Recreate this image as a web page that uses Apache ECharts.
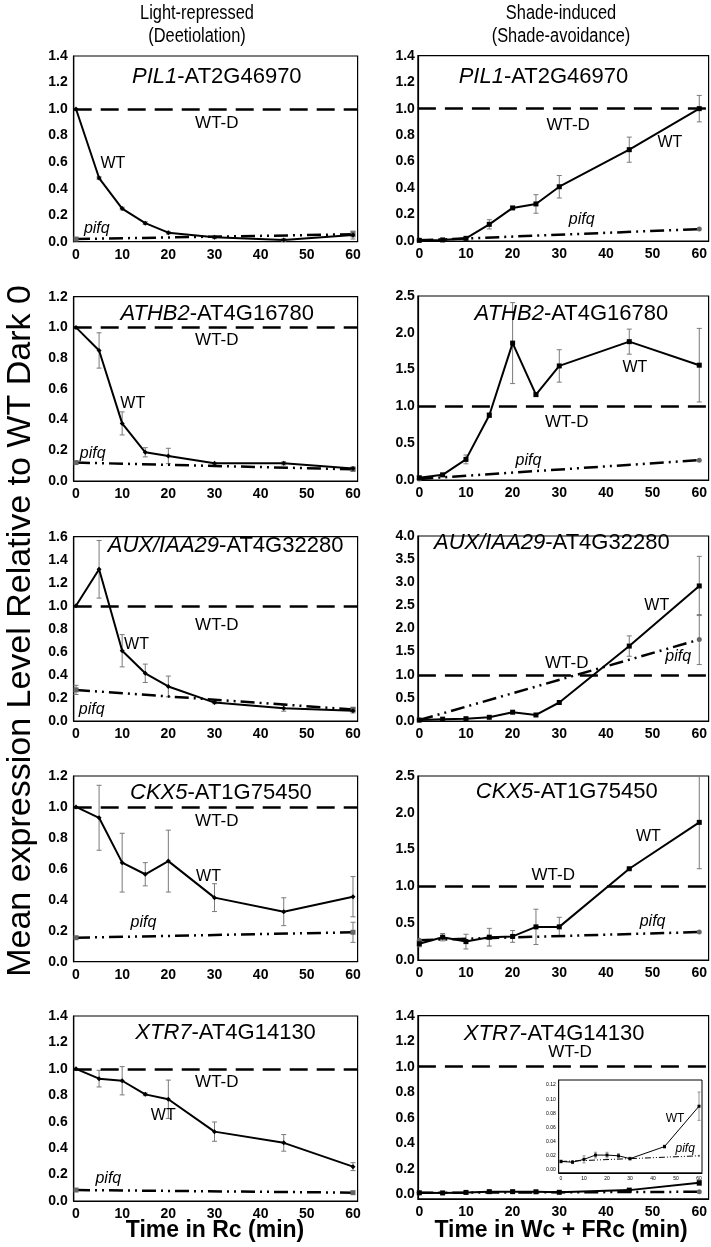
<!DOCTYPE html>
<html><head><meta charset="utf-8">
<script src="https://cdn.jsdelivr.net/npm/echarts@6/dist/echarts.min.js"></script>
<style>html,body{margin:0;padding:0;background:#fff}#c{width:711px;height:1247px}</style>
</head><body><div id="c"></div>
<script>
// ---------- DATA ----------
const timesLight = [0, 5, 10, 15, 20, 30, 45, 60];
const timesShade = [0, 5, 10, 15, 20, 25, 30, 45, 60];
const pifqTimes = [0, 60];
const xTicks = [0, 10, 20, 30, 40, 50, 60];
const wtDarkLevel = 1.0;
const yTicks12 = [0, 0.2, 0.4, 0.6, 0.8, 1.0, 1.2];
const yTicks14 = [0, 0.2, 0.4, 0.6, 0.8, 1.0, 1.2, 1.4];
const yTicks16 = [0, 0.2, 0.4, 0.6, 0.8, 1.0, 1.2, 1.4, 1.6];
const yTicks25 = [0, 0.5, 1.0, 1.5, 2.0, 2.5];
const yTicks40 = [0, 0.5, 1.0, 1.5, 2.0, 2.5, 3.0, 3.5, 4.0];
const insetYTicks = [0, 0.02, 0.04, 0.06, 0.08, 0.10, 0.12];

// PIL1
const pil1LightWT   = [1.0, 0.48, 0.25, 0.14, 0.068, 0.033, 0.013, 0.05];
const pil1LightErr  = [0, 0.01, 0.01, 0.01, 0.01, 0.01, 0.01, 0.03];
const pil1LightPifq = [0.02, 0.056];
const pil1LightPifqErr = [0, 0.02];
const pil1ShadeWT   = [0.005, 0.008, 0.02, 0.126, 0.25, 0.28, 0.41, 0.69, 1.0];
const pil1ShadeErr  = [0, 0, 0.005, 0.035, 0.01, 0.07, 0.085, 0.095, 0.1];
const pil1ShadePifq = [0.005, 0.09];
const pil1ShadePifqErr = [0, 0];
// ATHB2
const athb2LightWT   = [1.0, 0.85, 0.375, 0.187, 0.163, 0.115, 0.115, 0.082];
const athb2LightErr  = [0, 0.115, 0.075, 0.03, 0.05, 0.005, 0.01, 0.01];
const athb2LightPifq = [0.12, 0.076];
const athb2LightPifqErr = [0, 0.01];
const athb2ShadeWT   = [0.03, 0.07, 0.28, 0.88, 1.86, 1.16, 1.55, 1.88, 1.56];
const athb2ShadeErr  = [0.02, 0.02, 0.06, 0.03, 0.55, 0.02, 0.22, 0.17, 0.5];
const athb2ShadePifq = [0.015, 0.27];
const athb2ShadePifqErr = [0, 0];
// AUX/IAA29
const iaa29LightWT   = [1.0, 1.317, 0.61, 0.414, 0.30, 0.16, 0.11, 0.09];
const iaa29LightErr  = [0, 0.25, 0.14, 0.08, 0.09, 0.01, 0.025, 0.02];
const iaa29LightPifq = [0.27, 0.10];
const iaa29LightPifqErr = [0.04, 0.02];
const iaa29ShadeWT   = [0.02, 0.04, 0.05, 0.08, 0.19, 0.13, 0.40, 1.62, 2.92];
const iaa29ShadeErr  = [0, 0, 0, 0, 0, 0, 0, 0.22, 0.64];
const iaa29ShadePifq = [0.02, 1.76];
const iaa29ShadePifqErr = [0, 0.54];
// CKX5
const ckx5LightWT   = [1.0, 0.93, 0.64, 0.565, 0.65, 0.414, 0.323, 0.42];
const ckx5LightErr  = [0, 0.21, 0.19, 0.075, 0.2, 0.09, 0.09, 0.13];
const ckx5LightPifq = [0.155, 0.19];
const ckx5LightPifqErr = [0, 0.065];
const ckx5ShadeWT   = [0.22, 0.31, 0.25, 0.31, 0.32, 0.45, 0.45, 1.24, 1.87];
const ckx5ShadeErr  = [0.04, 0.05, 0.1, 0.12, 0.08, 0.24, 0.13, 0.01, 0.63];
const ckx5ShadePifq = [0.27, 0.38];
const ckx5ShadePifqErr = [0, 0];
// XTR7
const xtr7LightWT   = [1.0, 0.926, 0.91, 0.807, 0.77, 0.525, 0.44, 0.26];
const xtr7LightErr  = [0, 0.063, 0.107, 0.01, 0.145, 0.073, 0.063, 0.03];
const xtr7LightPifq = [0.083, 0.063];
const xtr7LightPifqErr = [0, 0];
const xtr7ShadeWT   = [0.012, 0.011, 0.015, 0.021, 0.021, 0.020, 0.016, 0.033, 0.09];
const xtr7ShadeErr  = [0.002, 0.002, 0.005, 0.004, 0.004, 0.003, 0.002, 0.002, 0.02];
const xtr7ShadePifq = [0.012, 0.02];
const xtr7ShadePifqErr = [0, 0];

// ---------- PANELS ----------
const panels = [
  {gene:'PIL1', locus:'AT2G46970', side:'L', times:timesLight, wt:pil1LightWT, err:pil1LightErr, pifq:pil1LightPifq, pifqErr:pil1LightPifqErr, yMax:1.4, yTicks:yTicks14},
  {gene:'PIL1', locus:'AT2G46970', side:'R', times:timesShade, wt:pil1ShadeWT, err:pil1ShadeErr, pifq:pil1ShadePifq, pifqErr:pil1ShadePifqErr, yMax:1.4, yTicks:yTicks14},
  {gene:'ATHB2', locus:'AT4G16780', side:'L', times:timesLight, wt:athb2LightWT, err:athb2LightErr, pifq:athb2LightPifq, pifqErr:athb2LightPifqErr, yMax:1.2, yTicks:yTicks12},
  {gene:'ATHB2', locus:'AT4G16780', side:'R', times:timesShade, wt:athb2ShadeWT, err:athb2ShadeErr, pifq:athb2ShadePifq, pifqErr:athb2ShadePifqErr, yMax:2.5, yTicks:yTicks25},
  {gene:'AUX/IAA29', locus:'AT4G32280', side:'L', times:timesLight, wt:iaa29LightWT, err:iaa29LightErr, pifq:iaa29LightPifq, pifqErr:iaa29LightPifqErr, yMax:1.6, yTicks:yTicks16},
  {gene:'AUX/IAA29', locus:'AT4G32280', side:'R', times:timesShade, wt:iaa29ShadeWT, err:iaa29ShadeErr, pifq:iaa29ShadePifq, pifqErr:iaa29ShadePifqErr, yMax:4.0, yTicks:yTicks40},
  {gene:'CKX5', locus:'AT1G75450', side:'L', times:timesLight, wt:ckx5LightWT, err:ckx5LightErr, pifq:ckx5LightPifq, pifqErr:ckx5LightPifqErr, yMax:1.2, yTicks:yTicks12},
  {gene:'CKX5', locus:'AT1G75450', side:'R', times:timesShade, wt:ckx5ShadeWT, err:ckx5ShadeErr, pifq:ckx5ShadePifq, pifqErr:ckx5ShadePifqErr, yMax:2.5, yTicks:yTicks25},
  {gene:'XTR7', locus:'AT4G14130', side:'L', times:timesLight, wt:xtr7LightWT, err:xtr7LightErr, pifq:xtr7LightPifq, pifqErr:xtr7LightPifqErr, yMax:1.4, yTicks:yTicks14},
  {gene:'XTR7', locus:'AT4G14130', side:'R', times:timesShade, wt:xtr7ShadeWT, err:xtr7ShadeErr, pifq:xtr7ShadePifq, pifqErr:xtr7ShadePifqErr, yMax:1.4, yTicks:yTicks14}
];

// ---------- LAYOUT ----------
const colL = {left:73.7, width:283.9, xMin:-0.5, xMax:61};
const colR = {left:417.9, width:290.7, xMin:-0.3, xMax:62};
const rowPix = [
  [56, 241.7, 0], [55.7, 241, 0],
  [296.7, 481, 0], [296, 480, 0],
  [536.7, 721, 0], [536, 721, 0],
  [776, 961.7, 0], [776, 960, 0],
  [1016, 1201, 0], [1015.7, 1198.8, -0.035]
];
// annotation positions in data coordinates: title, WT-D, WT, pifq
const annot = [
  {title:[30.5,1.24], wtd:[30.5,0.895], wt:[8,0.586], pifq:[4.5,0.10]},
  {title:[26.6,1.24], wtd:[31.9,0.876], wt:[53.7,0.74], pifq:[34.8,0.16]},
  {title:[30.6,1.09], wtd:[30.5,0.918], wt:[12.3,0.506], pifq:[3.6,0.18]},
  {title:[32.6,2.26], wtd:[31.6,0.79], wt:[46.2,1.53], pifq:[23.4,0.27]},
  {title:[32.4,1.52], wtd:[30.5,0.83], wt:[13.1,0.66], pifq:[3.4,0.10]},
  {title:[28.4,3.86], wtd:[31.6,1.24], wt:[50.9,2.49], pifq:[55.5,1.40]},
  {title:[31.4,1.09], wtd:[30.5,0.905], wt:[28.7,0.55], pifq:[14.6,0.25]},
  {title:[31.6,2.29], wtd:[28.7,1.15], wt:[49.1,1.68], pifq:[50.0,0.52]},
  {title:[32.4,1.27], wtd:[30.5,0.895], wt:[18.9,0.645], pifq:[7.0,0.17]},
  {title:[28.9,1.26], wtd:[32.3,1.11], wt:null, pifq:null}
];

const FONT = '"Liberation Sans", Arial, Helvetica, sans-serif';
const dashWTD = [18, 9];
const dashPifq = [14, 5, 2, 5, 2, 5];

function errData(times, vals, errs) {
  const out = [];
  times.forEach((t, k) => { if (errs[k] > 0) out.push([t, vals[k] - errs[k], vals[k] + errs[k]]); });
  return out;
}
function errSeries(idx, data, capW, lw) {
  return {
    type:'custom', xAxisIndex:idx, yAxisIndex:idx, silent:true, z:1,
    encode:{x:0, y:[1,2]}, data:data,
    renderItem:(params, api) => {
      const x = api.value(0), lo = api.value(1), hi = api.value(2);
      const a = api.coord([x, hi]), b = api.coord([x, lo]);
      const st = {stroke:'#7a7a7a', lineWidth:lw};
      return {type:'group', children:[
        {type:'line', shape:{x1:a[0], y1:a[1], x2:b[0], y2:b[1]}, style:st},
        {type:'line', shape:{x1:a[0]-capW, y1:a[1], x2:a[0]+capW, y2:a[1]}, style:st},
        {type:'line', shape:{x1:b[0]-capW, y1:b[1], x2:b[0]+capW, y2:b[1]}, style:st}
      ]};
    }
  };
}
function annItem(pos, text, style) {
  return {value:pos, label:Object.assign({show:true, position:'inside', formatter:text, color:'#000', opacity:1, fontFamily:FONT}, style)};
}

const option = {animation:false, backgroundColor:'#fff', grid:[], xAxis:[], yAxis:[], series:[], graphic:[]};

panels.forEach((p, i) => {
  const col = p.side === 'L' ? colL : colR;
  const r = rowPix[i];
  option.grid.push({left:col.left, top:r[0], width:col.width, height:r[1]-r[0], show:true, borderColor:'#000', borderWidth:1.2});
  option.xAxis.push({
    type:'value', gridIndex:i, min:col.xMin, max:col.xMax,
    axisLine:{show:true, onZero:false, lineStyle:{color:'#000', width:1.2}},
    axisTick:{show:false}, splitLine:{show:false},
    axisLabel:{customValues:xTicks, fontFamily:FONT, fontWeight:'bold', fontSize:14, color:'#000', margin:6}
  });
  option.yAxis.push({
    type:'value', gridIndex:i, min:r[2], max:p.yMax,
    axisLine:{show:true, onZero:false, lineStyle:{color:'#000', width:1.2}},
    axisTick:{show:false}, splitLine:{show:false},
    axisLabel:{customValues:p.yTicks, formatter:v => v.toFixed(1), fontFamily:FONT, fontWeight:'bold', fontSize:14, color:'#000', margin:p.side === 'L' ? 6 : 3}
  });
  const isL = p.side === 'L';
  option.series.push({
    type:'line', xAxisIndex:i, yAxisIndex:i, z:3,
    data:pifqTimes.map((t, k) => [t, p.pifq[k]]),
    symbol:isL ? 'rect' : 'circle', symbolSize:5, showSymbol:true,
    itemStyle:{color:'#666'},
    lineStyle:{color:'#000', width:2.5, type:dashPifq}
  });
  option.series.push({
    type:'line', xAxisIndex:i, yAxisIndex:i, z:4,
    data:p.times.map((t, k) => [t, p.wt[k]]),
    symbol:isL ? 'diamond' : 'rect', symbolSize:5,
    itemStyle:{color:'#000'},
    lineStyle:{color:'#000', width:2},
    markLine:{silent:true, symbol:'none', label:{show:false}, animation:false,
      lineStyle:{color:'#000', width:2.5, type:dashWTD}, data:[{yAxis:wtDarkLevel}]}
  });
  option.series.push(errSeries(i, errData(p.times, p.wt, p.err), 2.5, 1));
  option.series.push(errSeries(i, errData(pifqTimes, p.pifq, p.pifqErr), 2.5, 1));
  const a = annot[i];
  const items = [
    annItem(a.title, '{i|' + p.gene + '}{n|-' + p.locus + '}', {rich:{i:{fontStyle:'italic', fontSize:22, fontFamily:FONT, color:'#000'}, n:{fontSize:22, fontFamily:FONT, color:'#000'}}}),
    annItem(a.wtd, 'WT-D', {fontSize:17})
  ];
  if (a.wt) items.push(annItem(a.wt, 'WT', {fontSize:16}));
  if (a.pifq) items.push(annItem(a.pifq, 'pifq', {fontSize:16, fontStyle:'italic'}));
  option.series.push({type:'scatter', xAxisIndex:i, yAxisIndex:i, symbolSize:1, silent:true, z:6,
    itemStyle:{color:'transparent', opacity:1}, data:items});
});

// ---------- INSET (XTR7 shade) ----------
const iIdx = panels.length;
const xtr = panels[9];
option.grid.push({left:558.7, top:1080, width:143.3, height:92.8, show:true, borderColor:'#000', borderWidth:1, backgroundColor:'#fff', z:3});
option.xAxis.push({type:'value', gridIndex:iIdx, min:-1, max:61.3,
  axisLine:{show:true, onZero:false, lineStyle:{color:'#000', width:1}}, axisTick:{show:false}, splitLine:{show:false},
  axisLabel:{customValues:xTicks, fontFamily:FONT, fontSize:5, color:'#000', margin:3}});
option.yAxis.push({type:'value', gridIndex:iIdx, min:-0.004, max:0.127,
  axisLine:{show:true, onZero:false, lineStyle:{color:'#000', width:1}}, axisTick:{show:false}, splitLine:{show:false},
  axisLabel:{customValues:insetYTicks, formatter:v => v.toFixed(2), fontFamily:FONT, fontSize:5, color:'#000', margin:3}});
option.series.push({type:'line', xAxisIndex:iIdx, yAxisIndex:iIdx, z:5,
  data:pifqTimes.map((t, k) => [t, xtr.pifq[k]]), symbol:'circle', symbolSize:2, itemStyle:{color:'#555'},
  lineStyle:{color:'#000', width:1, type:[6, 2, 1, 2, 1, 2]}});
option.series.push({type:'line', xAxisIndex:iIdx, yAxisIndex:iIdx, z:6,
  data:xtr.times.map((t, k) => [t, xtr.wt[k]]), symbol:'rect', symbolSize:3, itemStyle:{color:'#000'},
  lineStyle:{color:'#000', width:1}});
const insetErr = errSeries(iIdx, errData(xtr.times, xtr.wt, xtr.err), 1.5, 0.8);
insetErr.z = 5;
option.series.push(insetErr);
option.series.push({type:'scatter', xAxisIndex:iIdx, yAxisIndex:iIdx, symbolSize:1, silent:true, z:7,
  itemStyle:{color:'transparent', opacity:1},
  data:[annItem([49.6, 0.073], 'WT', {fontSize:12}), annItem([54, 0.03], 'pifq', {fontSize:12, fontStyle:'italic'})]});

// ---------- TEXT ----------
function txt(x, y, s, font, rot, sx) {
  return {type:'text', x:x, y:y, rotation:rot || 0, scaleX:sx || 1, z:10,
    style:{text:s, font:font, fill:'#000', align:'center', verticalAlign:'middle', textAlign:'center', textVerticalAlign:'middle'}};
}
const headFont = '20px "Liberation Sans", Arial, sans-serif';
option.graphic = [
  txt(197, 13, 'Light-repressed', headFont, 0, 0.82),
  txt(197, 36, '(Deetiolation)', headFont, 0, 0.82),
  txt(561, 13, 'Shade-induced', headFont, 0, 0.82),
  txt(561, 36, '(Shade-avoidance)', headFont, 0, 0.82),
  txt(21, 631, 'Mean expression Level Relative to WT Dark 0', '34px "Liberation Sans", Arial, sans-serif', Math.PI / 2),
  txt(215, 1231, 'Time in Rc (min)', 'bold 23px "Liberation Sans", Arial, sans-serif'),
  txt(561, 1231, 'Time in Wc + FRc (min)', 'bold 23px "Liberation Sans", Arial, sans-serif')
];

const chart = echarts.init(document.getElementById('c'), null, {renderer:'canvas'});
chart.setOption(option);
</script>
</body></html>
